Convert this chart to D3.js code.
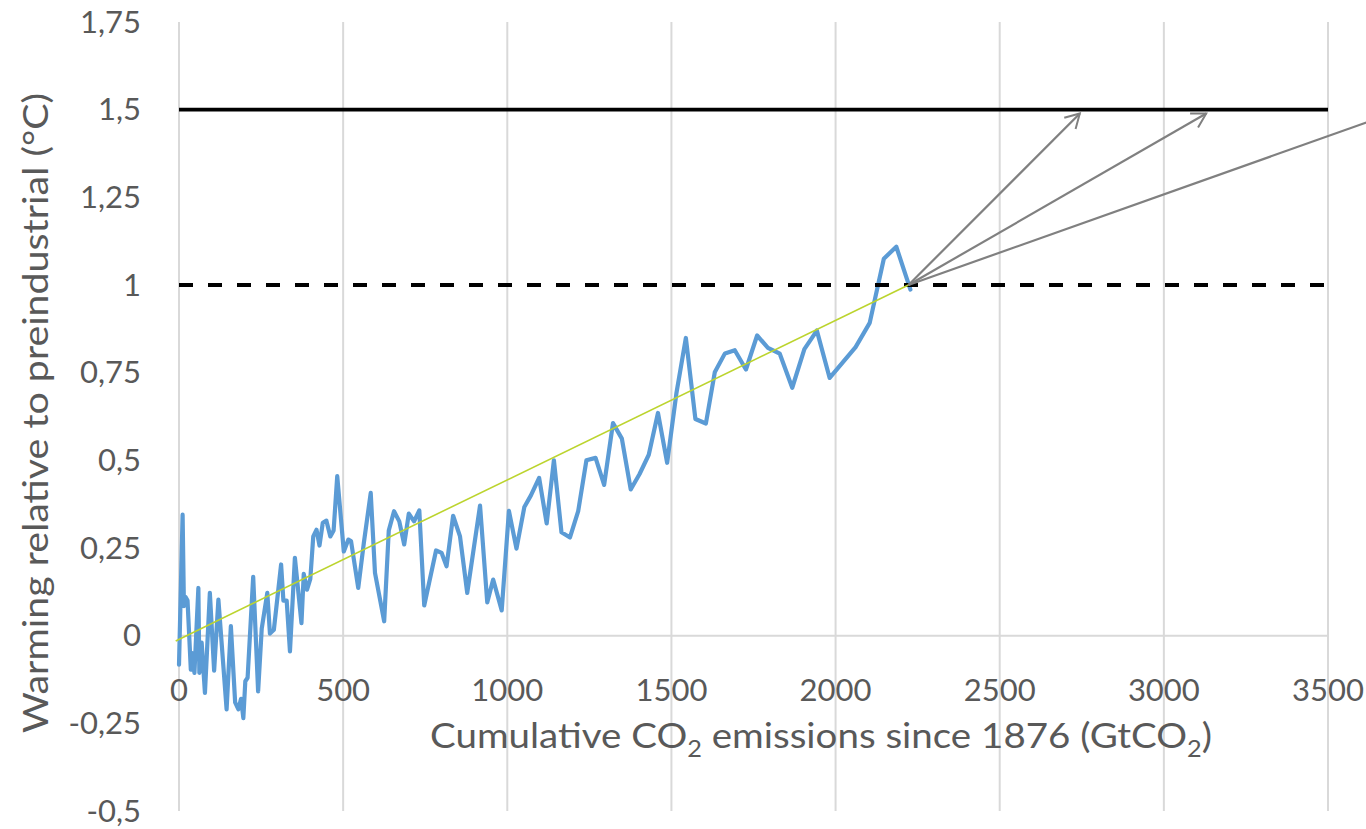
<!DOCTYPE html>
<html>
<head>
<meta charset="utf-8">
<script src="https://cdn.jsdelivr.net/npm/d3@7"></script>
<style>
  html, body { margin: 0; padding: 0; background: #ffffff; }
  svg { display: block; }
</style>
</head>
<body>
<svg id="chart" width="1366" height="829"></svg>
<script>
// ---------- DATA ----------
const emissions = [0, 11, 15, 20, 26, 36, 40, 47, 59, 62, 69, 79, 94, 107, 120, 145, 158, 171, 181, 189,
  196, 202, 209, 226, 241, 252, 269, 277, 289, 311, 318, 328, 338, 353, 373, 380, 390, 400, 409, 419,
  428, 438, 449, 461, 471, 482, 502, 516, 524, 546, 563, 584, 597, 625, 639, 655, 671, 686, 700, 716,
  732, 747, 783, 800, 815, 835, 856, 878, 917, 939, 957, 983, 1005, 1028, 1052, 1072, 1097, 1120, 1142, 1165,
  1191, 1216, 1241, 1269, 1295, 1322, 1349, 1376, 1403, 1431, 1459, 1487, 1515, 1544, 1573, 1605, 1632, 1663, 1693, 1727,
  1761, 1794, 1830, 1868, 1905, 1943, 1982, 2061, 2104, 2147, 2185, 2228];
const warming = [-0.083, 0.345, 0.084, 0.11, 0.10, -0.097, -0.05, -0.106, 0.136, -0.106, -0.02, -0.163, 0.122, -0.10, 0.103, -0.21, 0.027, -0.19, -0.21, -0.18,
  -0.235, -0.13, -0.12, 0.168, -0.159, 0.02, 0.122, 0.006, 0.017, 0.203, 0.10, 0.10, -0.045, 0.222, 0.036, 0.176, 0.131, 0.162, 0.283, 0.302,
  0.257, 0.322, 0.328, 0.283, 0.30, 0.455, 0.24, 0.274, 0.27, 0.136, 0.264, 0.407, 0.179, 0.041, 0.30, 0.355, 0.326, 0.26, 0.348, 0.326,
  0.357, 0.086, 0.243, 0.236, 0.198, 0.342, 0.283, 0.122, 0.371, 0.095, 0.16, 0.072, 0.356, 0.248, 0.367, 0.40, 0.45, 0.32, 0.50, 0.295,
  0.28, 0.355, 0.50, 0.507, 0.43, 0.606, 0.562, 0.417, 0.461, 0.516, 0.635, 0.493, 0.69, 0.849, 0.618, 0.605, 0.751, 0.805, 0.814, 0.759,
  0.856, 0.821, 0.804, 0.707, 0.817, 0.87, 0.735, 0.823, 0.892, 1.075, 1.109, 0.987];

const trendX = [-10, 2222];
const trendY = [-0.015, 1.0];

const arrowOrigin = [2222, 1.0];
const arrowTipsX = [2744, 3129, 3694];
const arrowTipsY = [1.489, 1.489, 1.489];

const thresholdSolid = 1.5;
const thresholdDashed = 1.0;

const xTicks = [0, 500, 1000, 1500, 2000, 2500, 3000, 3500];
const xTickLabels = ["0", "500", "1000", "1500", "2000", "2500", "3000", "3500"];
const yTicks = [1.75, 1.5, 1.25, 1, 0.75, 0.5, 0.25, 0, -0.25, -0.5];
const yTickLabels = ["1,75", "1,5", "1,25", "1", "0,75", "0,5", "0,25", "0", "-0,25", "-0,5"];

const xTitleParts = [["Cumulative CO", 0], ["2", 1], [" emissions since 1876 (GtCO", 0], ["2", 1], [")", 0]];
const yTitle = "Warming relative to preindustrial (°C)";

// ---------- LAYOUT ----------
const svg = d3.select("#chart");
const x = d3.scaleLinear().domain([0, 3500]).range([179, 1328]);
const y = d3.scaleLinear().domain([-0.5, 1.75]).range([811, 22]);
const font = "Lato, 'Open Sans', 'DejaVu Sans', sans-serif";
const textColor = "#595959";
const gridColor = "#d9d9d9";

// vertical gridlines
svg.append("g").selectAll("line").data(xTicks).join("line")
  .attr("x1", d => x(d)).attr("x2", d => x(d))
  .attr("y1", y(1.75)).attr("y2", y(-0.5))
  .attr("stroke", gridColor).attr("stroke-width", 2);

// horizontal axis line at y = 0
svg.append("line")
  .attr("x1", x(0)).attr("x2", x(3500))
  .attr("y1", y(0)).attr("y2", y(0))
  .attr("stroke", gridColor).attr("stroke-width", 2);

// y tick labels
svg.append("g").selectAll("text").data(yTicks).join("text")
  .attr("x", 141).attr("y", d => y(d))
  .attr("dy", "0.34em")
  .attr("text-anchor", "end")
  .attr("font-family", font).attr("font-size", 31)
  .attr("fill", textColor)
  .text((d, i) => yTickLabels[i]);

// x tick labels
svg.append("g").selectAll("text").data(xTicks).join("text")
  .attr("x", d => x(d)).attr("y", 701)
  .attr("text-anchor", "middle")
  .attr("font-family", font).attr("font-size", 31)
  .attr("fill", textColor)
  .text((d, i) => xTickLabels[i]);

// x title with subscripts
const xt = svg.append("text")
  .attr("x", 430).attr("y", 748)
  .attr("font-family", font).attr("font-size", 35)
  .attr("fill", textColor)
  .attr("textLength", 782).attr("lengthAdjust", "spacingAndGlyphs");
xTitleParts.forEach((p, i) => {
  const prev = i > 0 ? xTitleParts[i - 1][1] : 0;
  const t = xt.append("tspan").text(p[0])
    .attr("dy", p[1] && !prev ? 9 : (!p[1] && prev ? -9 : 0));
  if (p[1]) t.attr("font-size", 23);
});

// y title
svg.append("text")
  .attr("transform", "translate(48,413) rotate(-90)")
  .attr("text-anchor", "middle")
  .attr("font-family", font).attr("font-size", 35)
  .attr("fill", textColor)
  .attr("textLength", 640).attr("lengthAdjust", "spacingAndGlyphs")
  .text(yTitle);

// blue data line
const line = d3.line().x(d => x(d[0])).y(d => y(d[1]));
const pts = emissions.map((e, i) => [e, warming[i]]);
svg.append("path")
  .datum(pts)
  .attr("d", line)
  .attr("fill", "none")
  .attr("stroke", "#5b9bd5")
  .attr("stroke-width", 4.2)
  .attr("stroke-linejoin", "round")
  .attr("stroke-linecap", "round");

// threshold lines
svg.append("line")
  .attr("x1", x(0)).attr("x2", x(3500))
  .attr("y1", y(thresholdSolid)).attr("y2", y(thresholdSolid))
  .attr("stroke", "#000").attr("stroke-width", 3.8);
svg.append("line")
  .attr("x1", x(0)).attr("x2", x(3500))
  .attr("y1", y(thresholdDashed)).attr("y2", y(thresholdDashed))
  .attr("stroke", "#000").attr("stroke-width", 3.8)
  .attr("stroke-dasharray", "14 15");

// trend line
svg.append("line")
  .attr("x1", x(trendX[0])).attr("y1", y(trendY[0]))
  .attr("x2", x(trendX[1])).attr("y2", y(trendY[1]))
  .attr("stroke", "#bcd42e").attr("stroke-width", 1.6);

// arrows
svg.append("defs").append("marker")
  .attr("id", "arrowhead")
  .attr("viewBox", "0 0 20 20")
  .attr("refX", 18).attr("refY", 10)
  .attr("markerWidth", 20).attr("markerHeight", 20)
  .attr("markerUnits", "userSpaceOnUse")
  .attr("orient", "auto")
  .append("path")
  .attr("d", "M4,2 L18,10 L4,18")
  .attr("fill", "none")
  .attr("stroke", "#808080")
  .attr("stroke-width", 2);

svg.append("g").selectAll("line").data(arrowTipsX).join("line")
  .attr("x1", x(arrowOrigin[0])).attr("y1", y(arrowOrigin[1]))
  .attr("x2", d => x(d)).attr("y2", (d, i) => y(arrowTipsY[i]))
  .attr("stroke", "#808080").attr("stroke-width", 2.2)
  .attr("marker-end", "url(#arrowhead)");
</script>
</body>
</html>
